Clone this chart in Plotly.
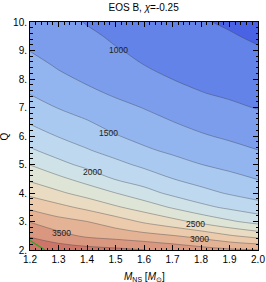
import plotly.graph_objects as go

# ---- data ----
mass_ns = [1.2, 1.3, 1.4, 1.5, 1.6, 1.7, 1.8, 1.9, 2.0]
mass_ratio = [2.0, 2.5, 3.0, 3.5, 4.0, 4.5, 5.0, 5.5, 6.0, 6.5, 7.0, 7.5, 8.0, 8.5, 9.0, 9.5, 10.0]
# rows follow mass_ratio, columns follow mass_ns
freq = [
    [3700, 3650, 3600, 3560, 3505, 3430, 3353, 3292, 3255],
    [3476, 3331, 3208, 3148, 3083, 3013, 2913, 2773, 2655],
    [3238, 3086, 3002, 2871, 2714, 2581, 2433, 2286, 2164],
    [2946, 2821, 2688, 2533, 2389, 2224, 2066, 1952, 1850],
    [2684, 2543, 2400, 2252, 2094, 1942, 1828, 1725, 1647],
    [2453, 2306, 2150, 1983, 1875, 1752, 1652, 1569, 1490],
    [2242, 2071, 1933, 1812, 1701, 1590, 1502, 1435, 1370],
    [2033, 1891, 1767, 1658, 1536, 1455, 1386, 1319, 1252],
    [1870, 1738, 1639, 1514, 1427, 1352, 1273, 1214, 1161],
    [1724, 1613, 1515, 1410, 1334, 1252, 1181, 1125, 1073],
    [1605, 1490, 1405, 1310, 1242, 1166, 1094, 1036, 990],
    [1490, 1394, 1297, 1222, 1161, 1081, 1007, 970, 935],
    [1407, 1298, 1217, 1153, 1080, 998, 957, 920, 880],
    [1325, 1223, 1157, 1083, 999, 955, 910, 870, 826],
    [1245, 1170, 1098, 1014, 960, 913, 863, 820, 771],
    [1200, 1117, 1038, 971, 921, 870, 816, 770, 716],
    [1155, 1064, 988, 934, 882, 827, 769, 720, 661],
]
level_start, level_end, level_step = 750, 3750, 250
band_colors = [
    "#4a62e4", "#6383e8", "#7b9dec", "#93b5ef", "#a9c9f0", "#bdd8ef", "#cfe2e7",
    "#dfe5d6", "#e9dcc2", "#ebcbab", "#e4b395", "#d99780", "#cd7668", "#c25656",
]
label_text = ["1000", "1500", "2000", "2500", "3000", "3500"]
label_M = [1.512, 1.477, 1.418, 1.781, 1.793, 1.309]
label_Q = [9.02, 6.12, 4.72, 2.93, 2.37, 2.61]
green_M = [1.2, 1.225, 1.253]
green_Q = [2.33, 2.17, 2.0]
x_tickvals = [1.2, 1.3, 1.4, 1.5, 1.6, 1.7, 1.8, 1.9, 2.0]
x_ticktext = ["1.2", "1.3", "1.4", "1.5", "1.6", "1.7", "1.8", "1.9", "2.0"]
y_tickvals = [2, 3, 4, 5, 6, 7, 8, 9, 10]
y_ticktext = ["2.", "3.", "4.", "5.", "6.", "7.", "8.", "9.", "10."]

n = len(band_colors) - 1
colorscale = [[k / n, c] for k, c in enumerate(band_colors)]

fig = go.Figure()
fig.add_trace(go.Contour(
    x=mass_ns, y=mass_ratio, z=freq,
    colorscale=colorscale, showscale=False,
    contours=dict(start=level_start, end=level_end, size=level_step,
                  coloring="fill", showlines=True),
    line=dict(color="rgba(60,60,70,0.55)", width=0.7, smoothing=1),
    hoverinfo="skip",
))
fig.add_trace(go.Scatter(
    x=green_M, y=green_Q, mode="lines",
    line=dict(color="#2aa52a", width=1.3), hoverinfo="skip", showlegend=False,
))
for t, mx, qy in zip(label_text, label_M, label_Q):
    fig.add_annotation(x=mx, y=qy, text=t, showarrow=False,
                       font=dict(size=8.5, color="#222"))

# axis titles as paper-anchored annotations
fig.add_annotation(xref="paper", yref="paper", x=0.5, y=-0.118,
                   text="<i>M</i><sub>NS</sub> [<i>M</i><sub>⊙</sub>]",
                   showarrow=False, xanchor="center", yanchor="middle",
                   font=dict(size=10, color="black"))
fig.add_annotation(xref="paper", yref="paper", x=-0.112, y=0.5,
                   text="Q", textangle=-90, showarrow=False,
                   xanchor="center", yanchor="middle",
                   font=dict(size=10, color="black"))

axis_common = dict(
    showline=True, linecolor="black", linewidth=1, mirror="allticks",
    ticks="inside", ticklen=5, tickwidth=1, tickcolor="black",
    showgrid=False, zeroline=False, automargin=False,
    tickfont=dict(size=10, color="black"),
)
fig.update_xaxes(
    range=[1.2, 2.0], tickmode="array", tickvals=x_tickvals, ticktext=x_ticktext,
    minor=dict(tickmode="linear", tick0=1.2, dtick=0.02, ticks="inside",
               ticklen=2.5, tickcolor="black", showgrid=False),
    **axis_common,
)
fig.update_yaxes(
    range=[2, 10], tickmode="array", tickvals=y_tickvals, ticktext=y_ticktext,
    minor=dict(tickmode="linear", tick0=2, dtick=0.2, ticks="inside",
               ticklen=2.5, tickcolor="black", showgrid=False),
    **axis_common,
)
fig.update_layout(
    width=266, height=282,
    margin=dict(l=30, r=8, t=22, b=32),
    paper_bgcolor="white", plot_bgcolor="white",
    font=dict(family="Liberation Sans, Arial, sans-serif", size=10, color="black"),
    title=dict(text="EOS B, <i>χ</i>=-0.25", x=0.54, xanchor="center",
               y=0.985, yanchor="top", font=dict(size=10, color="black")),
    showlegend=False,
)
fig.write_html("out.html", config={"displayModeBar": False, "staticPlot": True})

# remove the default page margin so the figure sits at the window's top-left
with open("out.html", encoding="utf-8") as fh:
    page = fh.read()
page = page.replace("<head>", "<head><style>html,body{margin:0;padding:0;overflow:hidden;}</style>", 1)
with open("out.html", "w", encoding="utf-8") as fh:
    fh.write(page)
